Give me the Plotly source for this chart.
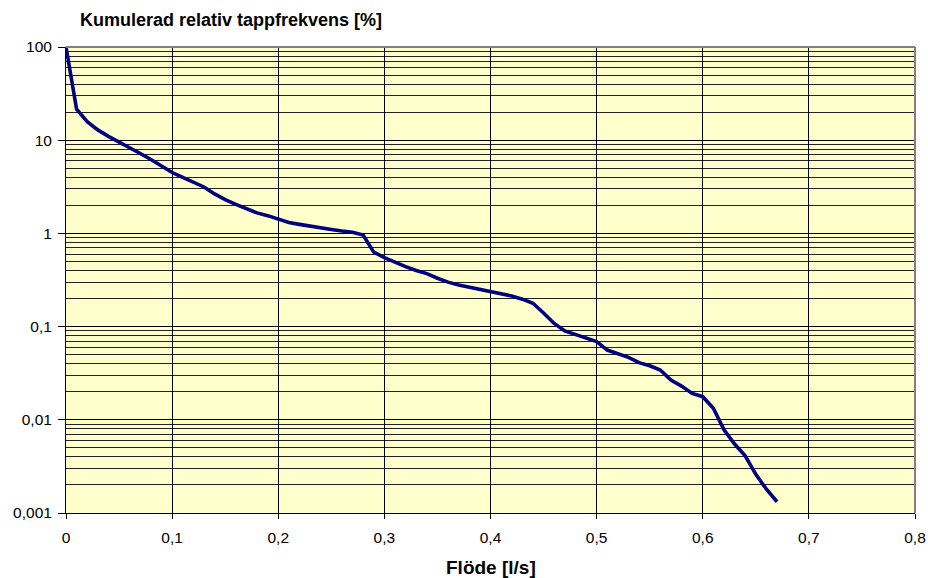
import plotly.graph_objects as go

# Flow rate [l/s]
flow = [round(i * 0.01, 2) for i in range(68)]

# Cumulative relative tap frequency [%]
cum_freq = [
    100, 21.5, 15.8, 12.9, 11.0, 9.6, 8.3, 7.2, 6.2, 5.3,
    4.5, 4.0, 3.55, 3.15, 2.65, 2.3, 2.05, 1.85, 1.66, 1.55,
    1.41, 1.31, 1.25, 1.19, 1.15, 1.10, 1.06, 1.03, 0.96, 0.63,
    0.55, 0.49, 0.44, 0.40, 0.37, 0.33, 0.30, 0.28, 0.265, 0.252,
    0.24, 0.226, 0.213, 0.197, 0.178, 0.14, 0.108, 0.09, 0.082, 0.075,
    0.069, 0.056, 0.051, 0.0467, 0.041, 0.038, 0.0342, 0.0267, 0.023, 0.0192,
    0.0177, 0.0133, 0.0078, 0.0055, 0.0041, 0.0026, 0.0018, 0.00132,
]

x_ticks = [0, 0.1, 0.2, 0.3, 0.4, 0.5, 0.6, 0.7, 0.8]
x_labels = ["0", "0,1", "0,2", "0,3", "0,4", "0,5", "0,6", "0,7", "0,8"]
y_ticks = [0.001, 0.01, 0.1, 1, 10, 100]
y_labels = ["0,001", "0,01", "0,1", "1", "10", "100"]

# minor grid lines at 2..9 within each decade
y_minor = [m * d for d in y_ticks[:-1] for m in range(2, 10)]

FONT = "Liberation Sans, Arial, sans-serif"
W, H = 928, 578
M_L, M_R, M_T, M_B = 66, 13, 47, 65
PLOT_H = H - M_T - M_B

fig = go.Figure()
fig.add_trace(go.Scatter(
    x=flow, y=cum_freq, mode="lines",
    line=dict(color="#000080", width=3.6),
    showlegend=False, hoverinfo="skip",
))

fig.update_layout(
    width=W, height=H,
    margin=dict(l=M_L, r=M_R, t=M_T, b=M_B),
    paper_bgcolor="white",
    plot_bgcolor="#FFFFCC",
    font=dict(family=FONT, size=15.5, color="black"),
    title=dict(
        text="<b>Kumulerad relativ tappfrekvens [%]</b>",
        xref="container", yref="container",
        x=80 / W, xanchor="left",
        y=1 - 20 / H, yanchor="middle",
        font=dict(family=FONT, size=18, color="black"),
    ),
    annotations=[dict(
        text="<b>Flöde [l/s]</b>",
        xref="paper", yref="paper",
        x=0.5, xanchor="center",
        y=-(567 - (H - M_B)) / PLOT_H, yanchor="middle",
        showarrow=False,
        font=dict(family=FONT, size=19, color="black"),
    )],
)

fig.update_xaxes(
    range=[0, 0.8], automargin=False,
    tickvals=x_ticks, ticktext=x_labels,
    showgrid=True, gridcolor="#000000", gridwidth=1,
    showline=True, linecolor="#000000", linewidth=1,
    ticks="outside", ticklen=5, tickcolor="#000000",
    ticklabelstandoff=5,
    zeroline=False,
)

fig.update_yaxes(
    type="log", range=[-3, 2], automargin=False,
    tickvals=y_ticks, ticktext=y_labels,
    showgrid=True, gridcolor="#000000", gridwidth=1,
    minor=dict(tickvals=y_minor, showgrid=True, gridcolor="#222222", gridwidth=1, ticks=""),
    showline=True, linecolor="#000000", linewidth=1,
    ticks="outside", ticklen=7, tickcolor="#000000",
    ticklabelstandoff=3,
    zeroline=False,
)

# grey frame on the top and right edges of the plotting area
fig.add_shape(type="line", xref="paper", yref="paper", x0=0, x1=1, y0=1, y1=1,
              line=dict(color="#808080", width=2))
fig.add_shape(type="line", xref="paper", yref="paper", x0=1, x1=1, y0=0, y1=1,
              line=dict(color="#808080", width=2))

fig.write_html("out.html")
